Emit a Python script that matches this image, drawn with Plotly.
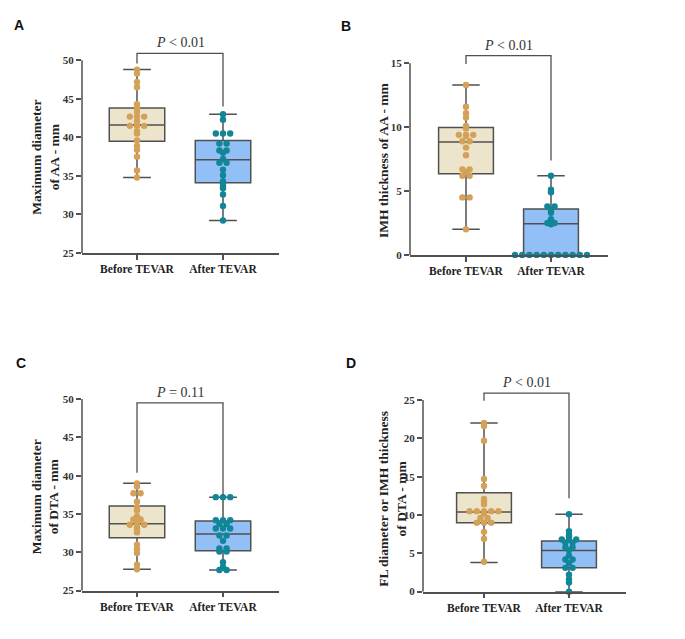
import plotly.graph_objects as go

W, H = 685, 639
PAGE_MARGIN = 8  # default body margin of the written html page

categories = ["Before TEVAR", "After TEVAR"]

# ---------------- data ----------------
# Panel A - Maximum diameter of AA (mm)
a_before = [48.8, 48.3, 47.2, 46.5, 44.3, 43.8, 43.3, 42.7, 42.7, 42.7, 42.1,
            41.5, 41.5, 41.5, 40.8, 40.5, 39.6, 38.9, 38.4, 37.5, 35.7, 34.8]
a_after = [43.0, 42.3, 40.5, 40.5, 40.5, 39.2, 39.2, 38.3, 38.3, 38.0, 37.2,
           36.7, 36.7, 35.8, 35.1, 34.3, 34.0, 33.7, 33.4, 32.6, 31.1, 29.2]
# box stats: lower whisker, Q1, median, Q3, upper whisker
a_box_before = [34.8, 39.5, 41.6, 43.8, 48.8]
a_box_after = [29.2, 34.1, 37.1, 39.6, 43.0]
a_bracket = [49.6, 50.9, 44.0]          # left end, top, right end
a_ticks = [25, 30, 35, 40, 45, 50]

# Panel B - IMH thickness of AA (mm)
b_before = [13.3, 11.6, 11.1, 10.75, 10.1, 9.9, 9.4, 9.4, 9.4, 9.3, 8.9, 8.9,
            8.4, 7.8, 6.7, 6.7, 6.5, 6.2, 6.2, 4.5, 4.5, 2.0]
b_after = [6.2, 5.1, 4.9, 3.8, 3.8, 3.5, 3.3, 2.8, 2.5, 2.5, 2.4,
           0, 0, 0, 0, 0, 0, 0, 0, 0, 0, 0]
b_box_before = [2.0, 6.35, 8.84, 9.97, 13.3]
b_box_after = [0.0, 0.0, 2.43, 3.6, 6.2]
b_bracket = [14.95, 15.6, 7.4]
b_ticks = [0, 5, 10, 15]

# Panel C - Maximum diameter of DTA (mm)
c_before = [39.0, 38.6, 37.7, 37.7, 36.6, 35.9, 35.5, 34.7, 34.3, 34.3, 33.9,
            33.6, 33.6, 33.6, 33.2, 32.9, 32.6, 31.0, 30.4, 29.9, 28.4, 27.8]
c_after = [37.2, 37.2, 37.2, 34.2, 34.2, 34.2, 33.7, 33.7, 33.1, 33.1, 33.1,
           32.2, 32.2, 31.5, 30.5, 30.1, 30.1, 28.7, 28.1, 27.7, 27.7, 30.5]
c_box_before = [27.8, 31.9, 33.74, 36.06, 39.0]
c_box_after = [27.7, 30.2, 32.4, 34.1, 37.2]
c_bracket = [40.4, 49.5, 37.4]
c_ticks = [25, 30, 35, 40, 45, 50]

# Panel D - FL diameter or IMH thickness of DTA (mm)
d_before = [22.0, 21.6, 19.7, 14.7, 13.8, 12.1, 11.8, 11.4, 10.5, 10.5, 10.5,
            10.5, 10.5, 10.2, 9.6, 9.6, 9.0, 9.0, 9.0, 7.8, 6.9, 3.9]
d_after = [10.1, 7.9, 7.4, 7.2, 6.8, 6.8, 6.8, 6.4, 6.4, 5.8, 5.8, 5.4, 4.7,
           4.2, 4.2, 3.7, 3.1, 3.1, 2.2, 1.6, 1.2, 0.0]
d_box_before = [3.8, 9.0, 10.4, 12.9, 22.0]
d_box_after = [0.0, 3.1, 5.37, 6.6, 10.1]
d_bracket = [24.9, 25.9, 12.2]
d_ticks = [0, 5, 10, 15, 20, 25]

p_labels = ["<i>P</i> &lt; 0.01", "<i>P</i> &lt; 0.01", "<i>P</i> = 0.11", "<i>P</i> &lt; 0.01"]
y_titles = ["Maximum diameter<br>of AA - mm",
            "IMH thickness of AA - mm",
            "Maximum diameter<br>of DTA - mm",
            "FL diameter or IMH thickness<br>of DTA - mm"]
letters = ["A", "B", "C", "D"]

# ---------------- layout geometry (pixels in the final picture) ----------------
geom = [
    dict(px=(82, 279), py=(254, 59), cx=(137, 223), tx=45.5, ty=157, lab=(19, 23)),
    dict(px=(410, 608), py=(256, 62), cx=(466, 551), tx=383, ty=160, lab=(346, 24)),
    dict(px=(82, 279), py=(596, 402), cx=(137, 223), tx=45.5, ty=501, lab=(21, 365)),
    dict(px=(423, 626), py=(597, 403), cx=(484, 569), tx=393, ty=503, lab=(351, 365)),
]

panels = [
    (a_before, a_after, a_box_before, a_box_after, a_bracket, a_ticks),
    (b_before, b_after, b_box_before, b_box_after, b_bracket, b_ticks),
    (c_before, c_after, c_box_before, c_box_after, c_bracket, c_ticks),
    (d_before, d_after, d_box_before, d_box_after, d_bracket, d_ticks),
]

BEFORE_FILL = "rgb(236,229,203)"
AFTER_FILL = "rgb(146,191,246)"
BEFORE_DOT = "rgb(212,161,88)"
AFTER_DOT = "rgb(16,134,152)"
LINE = "rgb(80,80,80)"
SERIF = "Liberation Serif, Times New Roman, serif"
SANS = "Liberation Sans, Arial, sans-serif"


def fx(px):
    return (px - PAGE_MARGIN) / W


def fy(py):
    return 1 - (py - PAGE_MARGIN) / H


fig = go.Figure()
shapes = []
annotations = []


def swarm_offsets(values, tol, step):
    """GraphPad-like column scatter: equal values share a row, spread sideways."""
    order = sorted(range(len(values)), key=lambda i: values[i])
    offs = [0.0] * len(values)
    rows = []
    for i in order:
        if rows and abs(values[i] - values[rows[-1][0]]) <= tol:
            rows[-1].append(i)
        else:
            rows.append([i])
    for row in rows:
        n = len(row)
        for k, i in enumerate(row):
            offs[i] = (k - (n - 1) / 2) * step
    return offs


for n, ((vb, va, sb, sa, br, ticks), g) in enumerate(zip(panels, geom)):
    idx = "" if n == 0 else str(n + 1)
    xa, ya = "x" + idx, "y" + idx
    ymin, ymax = ticks[0], ticks[-1]
    ppu_y = (g["py"][0] - g["py"][1]) / (ymax - ymin)
    ppu_x = g["cx"][1] - g["cx"][0]
    ytop = max(ymax, br[1]) + 4 / ppu_y
    dom_top_px = g["py"][0] - (ytop - ymin) * ppu_y
    xr = [(g["px"][0] - g["cx"][0]) / ppu_x, (g["px"][1] - g["cx"][0]) / ppu_x]

    for pos, stats, fill in ((0, sb, BEFORE_FILL), (1, sa, AFTER_FILL)):
        fig.add_trace(go.Box(
            x=[pos], lowerfence=[stats[0]], q1=[stats[1]], median=[stats[2]],
            q3=[stats[3]], upperfence=[stats[4]], orientation="v",
            width=0.645, whiskerwidth=0.5, fillcolor=fill,
            line=dict(color=LINE, width=1.5), boxpoints=False,
            hoverinfo="skip", showlegend=False, xaxis=xa, yaxis=ya))
    for pos, vals, col in ((0, vb, BEFORE_DOT), (1, va, AFTER_DOT)):
        offs = swarm_offsets(vals, 1.2 / ppu_y, 7.2 / ppu_x)
        fig.add_trace(go.Scatter(
            x=[pos + o for o in offs], y=vals, mode="markers",
            marker=dict(color=col, size=6.4, line=dict(width=0)),
            cliponaxis=False, showlegend=False, hoverinfo="skip",
            xaxis=xa, yaxis=ya))

    fig.update_layout(**{
        ("xaxis" + idx): dict(
            domain=[fx(g["px"][0]), fx(g["px"][1])], range=xr, anchor=ya,
            tickvals=[0, 1], ticktext=categories, showline=True,
            linecolor=LINE, linewidth=1.5, ticks="outside", ticklen=5,
            tickwidth=1.5, tickcolor=LINE, showgrid=False, zeroline=False,
            tickfont=dict(family=SERIF, size=11.5, color="#222", weight="bold")),
        ("yaxis" + idx): dict(
            domain=[fy(g["py"][0]), fy(dom_top_px)], range=[ymin, ytop],
            anchor=xa, tickvals=ticks, showline=False, ticks="outside",
            ticklen=5, tickwidth=1.5, tickcolor=LINE, showgrid=False,
            zeroline=False,
            tickfont=dict(family=SERIF, size=11, color="#333", weight="bold")),
    })
    # y axis line only over the tick range
    shapes.append(dict(type="line", xref=xa + " domain", x0=0, x1=0,
                       yref=ya, y0=ymin, y1=ymax,
                       line=dict(color=LINE, width=1.5)))
    # significance bracket
    shapes.append(dict(type="path", xref=xa, yref=ya,
                       path=f"M 0,{br[0]} L 0,{br[1]} L 1,{br[1]} L 1,{br[2]}",
                       line=dict(color=LINE, width=1.3)))
    annotations.append(dict(x=0.5, y=br[1], xref=xa, yref=ya, text=p_labels[n],
                            showarrow=False, yanchor="bottom", yshift=1,
                            font=dict(family=SERIF, size=14, color="#333")))
    annotations.append(dict(x=fx(g["tx"]), y=fy(g["ty"]), xref="paper", yref="paper",
                            text=y_titles[n], showarrow=False, textangle=-90,
                            xanchor="center", yanchor="middle",
                            font=dict(family=SERIF, size=13.5, color="#222",
                                      weight="bold")))
    annotations.append(dict(x=fx(g["lab"][0]), y=fy(g["lab"][1]),
                            xref="paper", yref="paper", text=letters[n],
                            showarrow=False, xanchor="center", yanchor="middle",
                            font=dict(family=SANS, size=14, color="#111",
                                      weight="bold")))

fig.update_layout(width=W, height=H, margin=dict(l=0, r=0, t=0, b=0),
                  paper_bgcolor="white", plot_bgcolor="white",
                  shapes=shapes, annotations=annotations)

fig.write_html("out.html")
